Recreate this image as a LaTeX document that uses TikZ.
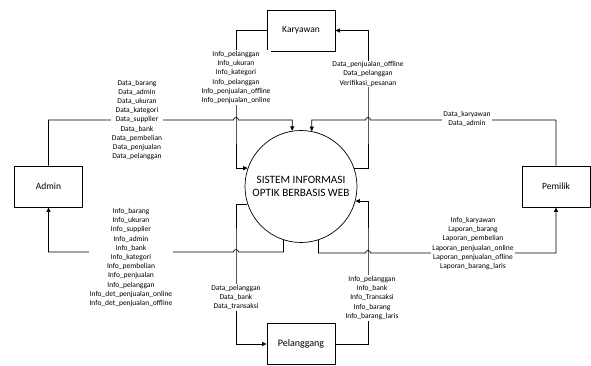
\documentclass[tikz,border=0pt]{standalone}
\usepackage{fontspec}
\setmainfont{Carlito}
\usetikzlibrary{arrows.meta}
\tikzset{
  entity/.style={draw, line width=0.9pt, minimum width=68pt, minimum height=41pt,
    inner sep=0pt, font=\fontsize{9.5}{11}\selectfont},
  process/.style={draw, circle, line width=0.7pt, minimum size=112pt, inner sep=0pt,
    align=center, font=\fontsize{11.2}{12.5}\selectfont},
  flow/.style={line width=0.7pt, -{Triangle[length=4.5pt,width=4pt]}},
  flowlabel/.style={fill=white, inner sep=1pt, align=center,
    font=\fontsize{7.5}{9.2}\selectfont},
}
\begin{document}
\begin{tikzpicture}[x=1pt, y=-1pt]
\useasboundingbox (0,0) rectangle (591,366);

% external entities and the central process
\node[entity] (karyawan) at (301,30.5) {Karyawan};
\node[entity] (admin) at (48.5,186.5) {Admin};
\node[entity] (pemilik) at (556,186.5) {Pemilik};
\node[entity, font=\fontsize{10}{12}\selectfont] (pelanggang) at (301,344) {Pelanggang};
\node[process] (sis) at (301,186.5) {SISTEM INFORMASI\\OPTIK BERBASIS WEB};

% crossing points where a horizontal flow hops over a vertical one
\coordinate (x1) at (236,120);
\coordinate (x2) at (368,120);
\coordinate (x3) at (236,252);
\coordinate (x4) at (368,253);

% data flows
\draw[flow] (admin.north) |- ([xshift=-2.5pt]x1)
  arc[start angle=180, end angle=0, radius=2.5pt] -| (sis.99);
\draw[flow] (karyawan.west) -| (x1) |- (sis.161);
\draw[flow] (sis.19) -| (x2) |- (karyawan.east);
\draw[flow] (pemilik.north) |- ([xshift=2.5pt]x2)
  arc[start angle=0, end angle=180, radius=2.5pt] -| (sis.79);
\draw[flow] (sis.252) |- ([xshift=2.5pt]x3)
  arc[start angle=0, end angle=180, radius=2.5pt] -| (admin.south);
\draw[flow] (sis.198) -| (x3) |- (pelanggang.west);
\draw[flow] (sis.288) |- ([xshift=-2.5pt]x4)
  arc[start angle=180, end angle=0, radius=2.5pt] -| (pemilik.south);
\draw[flow] (pelanggang.east) -| (x4) |- (sis.345);

% flow labels
\node[flowlabel] (l1) at (137,120) {Data\_barang\\Data\_admin\\Data\_ukuran\\Data\_kategori\\Data\_supplier\\Data\_bank\\Data\_pembelian\\Data\_penjualan\\Data\_pelanggan};
\node[flowlabel] (l2) at (236,77.5) {Info\_pelanggan\\Info\_ukuran\\Info\_kategori\\Info\_pelanggan\\Info\_penjualan\_offline\\Info\_penjualan\_online};
\node[flowlabel] (l3) at (368,74) {Data\_penjualan\_offline\\Data\_pelanggan\\Verifikasi\_pesanan};
\node[flowlabel] (l4) at (467,119) {Data\_karyawan\\Data\_admin};
\node[flowlabel] (l5) at (131,257.5) {Info\_barang\\Info\_ukuran\\Info\_supplier\\Info\_admin\\Info\_bank\\Info\_kategori\\Info\_pembelian\\Info\_penjualan\\Info\_pelanggan\\Info\_det\_penjualan\_online\\Info\_det\_penjualan\_offline};
\node[flowlabel] (l6) at (236,297.5) {Data\_pelanggan\\Data\_bank\\Data\_transaksi};
\node[flowlabel] (l7) at (372,298) {Info\_pelanggan\\Info\_bank\\Info\_Transaksi\\Info\_barang\\Info\_barang\_laris};
\node[flowlabel] (l8) at (473,243.5) {Info\_karyawan\\Laporan\_barang\\Laporan\_pembelian\\Laporan\_penjualan\_online\\Laporan\_penjualan\_ofline\\Laporan\_barang\_laris};
\end{tikzpicture}
\end{document}
